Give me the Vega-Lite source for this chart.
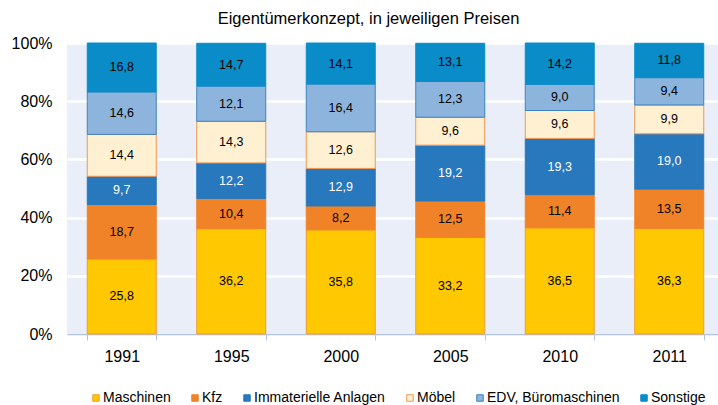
{
  "$schema": "https://vega.github.io/schema/vega-lite/v6.json",
  "autosize": "none",
  "width": 657,
  "height": 291,
  "padding": {"left": 67, "top": 43, "right": 0, "bottom": 71},
  "background": "white",
  "title": {
    "text": "Eigentümerkonzept, in jeweiligen Preisen",
    "font": "Liberation Sans",
    "fontSize": 16.5,
    "fontWeight": "normal",
    "color": "#000000",
    "anchor": "middle",
    "frame": "group",
    "dx": -27,
    "baseline": "alphabetic",
    "offset": -5
  },
  "config": {
    "locale": {"number": {"decimal": ",", "thousands": ".", "grouping": [3], "currency": ["", " €"]}},
    "view": {"fill": "#E9EEF8", "stroke": null},
    "font": "Liberation Sans"
  },
  "data": {
    "values": [
      {"year": "1991", "cat": "Maschinen", "ord": 1, "v": 25.8},
      {"year": "1991", "cat": "Kfz", "ord": 2, "v": 18.7},
      {"year": "1991", "cat": "Immaterielle Anlagen", "ord": 3, "v": 9.7},
      {"year": "1991", "cat": "Möbel", "ord": 4, "v": 14.4},
      {"year": "1991", "cat": "EDV, Büromaschinen", "ord": 5, "v": 14.6},
      {"year": "1991", "cat": "Sonstige", "ord": 6, "v": 16.8},
      {"year": "1995", "cat": "Maschinen", "ord": 1, "v": 36.2},
      {"year": "1995", "cat": "Kfz", "ord": 2, "v": 10.4},
      {"year": "1995", "cat": "Immaterielle Anlagen", "ord": 3, "v": 12.2},
      {"year": "1995", "cat": "Möbel", "ord": 4, "v": 14.3},
      {"year": "1995", "cat": "EDV, Büromaschinen", "ord": 5, "v": 12.1},
      {"year": "1995", "cat": "Sonstige", "ord": 6, "v": 14.7},
      {"year": "2000", "cat": "Maschinen", "ord": 1, "v": 35.8},
      {"year": "2000", "cat": "Kfz", "ord": 2, "v": 8.2},
      {"year": "2000", "cat": "Immaterielle Anlagen", "ord": 3, "v": 12.9},
      {"year": "2000", "cat": "Möbel", "ord": 4, "v": 12.6},
      {"year": "2000", "cat": "EDV, Büromaschinen", "ord": 5, "v": 16.4},
      {"year": "2000", "cat": "Sonstige", "ord": 6, "v": 14.1},
      {"year": "2005", "cat": "Maschinen", "ord": 1, "v": 33.2},
      {"year": "2005", "cat": "Kfz", "ord": 2, "v": 12.5},
      {"year": "2005", "cat": "Immaterielle Anlagen", "ord": 3, "v": 19.2},
      {"year": "2005", "cat": "Möbel", "ord": 4, "v": 9.6},
      {"year": "2005", "cat": "EDV, Büromaschinen", "ord": 5, "v": 12.3},
      {"year": "2005", "cat": "Sonstige", "ord": 6, "v": 13.1},
      {"year": "2010", "cat": "Maschinen", "ord": 1, "v": 36.5},
      {"year": "2010", "cat": "Kfz", "ord": 2, "v": 11.4},
      {"year": "2010", "cat": "Immaterielle Anlagen", "ord": 3, "v": 19.3},
      {"year": "2010", "cat": "Möbel", "ord": 4, "v": 9.6},
      {"year": "2010", "cat": "EDV, Büromaschinen", "ord": 5, "v": 9.0},
      {"year": "2010", "cat": "Sonstige", "ord": 6, "v": 14.2},
      {"year": "2011", "cat": "Maschinen", "ord": 1, "v": 36.3},
      {"year": "2011", "cat": "Kfz", "ord": 2, "v": 13.5},
      {"year": "2011", "cat": "Immaterielle Anlagen", "ord": 3, "v": 19.0},
      {"year": "2011", "cat": "Möbel", "ord": 4, "v": 9.9},
      {"year": "2011", "cat": "EDV, Büromaschinen", "ord": 5, "v": 9.4},
      {"year": "2011", "cat": "Sonstige", "ord": 6, "v": 11.8}
    ]
  },
  "encoding": {
    "x": {
      "field": "year",
      "type": "nominal",
      "scale": {"paddingInner": 0.37, "paddingOuter": 0.185},
      "axis": {
        "title": null,
        "labelAngle": 0,
        "labelFontSize": 16,
        "labelColor": "#000000",
        "labelPadding": 8,
        "tickBand": "extent",
        "tickSize": 6,
        "tickColor": "#B4C3E1",
        "domainColor": "#B4C3E1",
        "domainWidth": 1.5,
        "grid": false
      }
    }
  },
  "layer": [
    {
      "mark": {"type": "bar", "strokeWidth": 1},
      "encoding": {
        "y": {
          "field": "v",
          "type": "quantitative",
          "stack": "zero",
          "scale": {"domain": [0, 100], "nice": false},
          "axis": {
            "title": null,
            "values": [0, 20, 40, 60, 80, 100],
            "labelExpr": "datum.value + '%'",
            "labelFontSize": 16,
            "labelColor": "#000000",
            "labelPadding": 15,
            "domain": false,
            "ticks": false,
            "gridColor": "#FFFFFF",
            "gridWidth": 2.5
          }
        },
        "order": {"field": "ord", "type": "quantitative", "sort": "ascending"},
        "fill": {
          "field": "cat",
          "type": "nominal",
          "scale": {
            "domain": ["Maschinen", "Kfz", "Immaterielle Anlagen", "Möbel", "EDV, Büromaschinen", "Sonstige"],
            "range": ["#FFC800", "#F08228", "#2878BE", "#FFF0D2", "#8CB4DC", "#0A8CC8"]
          },
          "legend": {
            "title": null,
            "orient": "none",
            "direction": "horizontal",
            "legendX": 22,
            "legendY": 348,
            "symbolType": "square",
            "symbolSize": 42,
            "symbolStrokeWidth": 1,
            "labelFontSize": 14,
            "labelColor": "#000000",
            "labelOffset": 0,
            "columnPadding": 17,
            "padding": 0
          }
        },
        "stroke": {
          "field": "cat",
          "type": "nominal",
          "scale": {
            "domain": ["Maschinen", "Kfz", "Immaterielle Anlagen", "Möbel", "EDV, Büromaschinen", "Sonstige"],
            "range": ["#F29B36", "#F08228", "#2878BE", "#F09650", "#3C82C3", "#0A8CC8"]
          },
          "legend": null
        }
      }
    },
    {
      "mark": {"type": "text", "fontSize": 12.5, "baseline": "middle", "align": "center"},
      "encoding": {
        "y": {"field": "v", "type": "quantitative", "stack": "zero", "bandPosition": 0.5},
        "detail": {"field": "cat", "type": "nominal"},
        "order": {"field": "ord", "type": "quantitative", "sort": "ascending"},
        "text": {"field": "v", "type": "quantitative", "format": ".1f"},
        "color": {
          "condition": {"test": "datum.cat === 'Immaterielle Anlagen'", "value": "#FFFFFF"},
          "value": "#000000"
        }
      }
    }
  ]
}
